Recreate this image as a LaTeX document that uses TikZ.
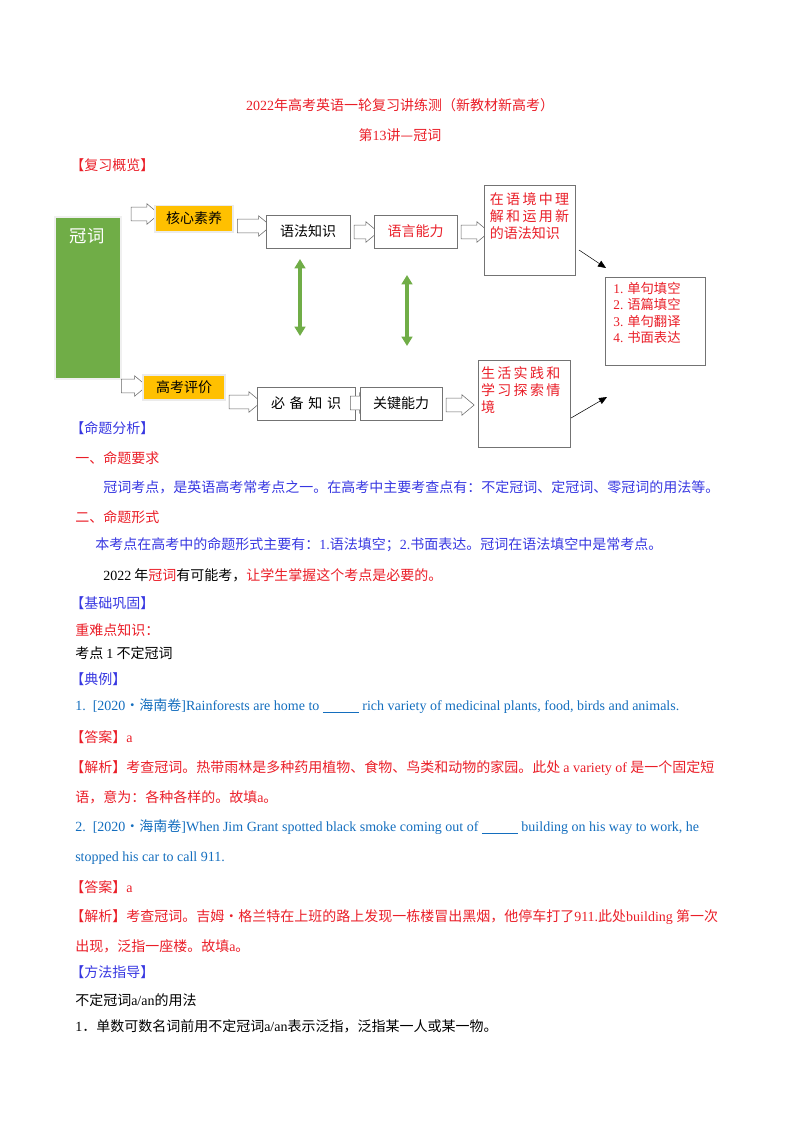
\documentclass[tikz,border=0pt]{standalone}
\usepackage{fontspec}
\setmainfont{Noto Sans CJK SC}
\newfontfamily\E{Liberation Serif}
\usetikzlibrary{shapes.arrows,arrows.meta}
\definecolor{rd}{RGB}{234,30,40}
\definecolor{bl}{RGB}{55,55,225}
\definecolor{ex}{RGB}{20,110,190}
\definecolor{gr}{RGB}{112,173,71}
\definecolor{og}{RGB}{255,192,0}
\newcommand{\en}[1]{{\E #1}}
\newcommand{\blank}{\underline{\hspace{27pt}}}
\begin{document}
\begin{tikzpicture}[x=0.75pt,y=-0.75pt,
  every node/.style={inner sep=0pt,font=\fontsize{10.5}{13}\selectfont},
  t/.style={anchor=west},
  box/.style={draw=black!55,fill=white,line width=0.5pt},
  obox/.style={fill=og,draw=black!8,line width=1pt},
  harr/.style={single arrow,draw=black!60,fill=white,line width=0.4pt,inner xsep=0pt,inner ysep=5pt,single arrow head extend=2.5pt,single arrow tip angle=80,shape border rotate=0},
  garr/.style={draw=gr,line width=3pt,{Triangle[length=7pt,width=8pt]}-{Triangle[length=7pt,width=8pt]}},
  larr/.style={draw=black,line width=0.4pt,-{Triangle[length=6pt,width=5pt]}}]
\useasboundingbox (0,0) rectangle (800,1132);
% titles
\node[text=rd] (ti1) at (400,105) {\en{2022}年高考英语一轮复习讲练测（新教材新高考）};
\node[text=rd] (ti2) at (400,135) {第\en{13}讲—冠词};
\node[t,text=rd] (h1) at (70,165) {【复习概览】};
% diagram
\node[fill=gr,draw=black!6,line width=1.5pt,minimum width=49.5pt,minimum height=122pt] (g) at (88,298) {};
\node[text=white,font=\fontsize{13}{15}\selectfont] (gt) at (87,236) {冠词};
\node[harr,minimum height=21pt] (a1) at (141,214) {};
\node[obox,minimum width=58.5pt,minimum height=20pt] (k1) at (194,218.5) {核心素养};
\node[harr,minimum height=25pt] (a2) at (250,226) {};
\node[box,minimum width=63pt,minimum height=24.75pt] (k2) at (308,231.5) {语法知识};
\node[harr,minimum height=18pt] (a3) at (362,232) {};
\node[box,minimum width=62.25pt,minimum height=24.75pt,text=rd] (k3) at (415.5,231.5) {语言能力};
\node[harr,minimum height=21pt] (a4) at (471,232) {};
\node[box,minimum width=68.25pt,minimum height=67.5pt] (k4) at (529.5,230) {};
\node[text=rd,align=left,font=\fontsize{10.5}{12.8}\selectfont] (k4t) at (529.5,216) {在\,语\,境\,中\,理\\解\,和\,运\,用\,新\\的语法知识};
\node[box,minimum width=75pt,minimum height=66pt] (f) at (655,321) {};
\node[text=rd,align=left,font=\fontsize{10}{12.2}\selectfont] (ft) at (647,313) {\en{1.} 单句填空\\\en{2.} 语篇填空\\\en{3.} 单句翻译\\\en{4.} 书面表达};
\node[harr,minimum height=19pt] (b1) at (130,386) {};
\node[obox,minimum width=61.5pt,minimum height=18.75pt] (m1) at (184,387.5) {高考评价};
\node[harr,minimum height=24pt] (b2) at (241,402) {};
\node[box,minimum width=73.5pt,minimum height=24.75pt] (m2) at (306,403.5) {必\,\,备\,\,知\,\,识};
\node[harr,minimum height=16pt] (b3) at (357,403) {};
\node[box,minimum width=61.5pt,minimum height=24.75pt] (m3) at (401,403.5) {关键能力};
\node[harr,minimum height=21pt] (b4) at (456,405) {};
\node[box,minimum width=69pt,minimum height=65.25pt] (m4) at (524,403.5) {};
\node[text=rd,align=left,font=\fontsize{10.5}{12.8}\selectfont] (m4t) at (523,390) {生\,活\,实\,践\,和\\学\,习\,探\,索\,情\\境\hphantom{习探索情境}};
\coordinate (p1) at (579,250); \coordinate (p2) at (606,268);
\draw[larr] (p1) -- (p2);
\coordinate (q1) at (571,418); \coordinate (q2) at (607,397);
\draw[larr] (q1) -- (q2);
\coordinate (d1) at (300,259); \coordinate (d2) at (300,336);
\draw[garr] (d1) -- (d2);
\coordinate (e1) at (407,275); \coordinate (e2) at (407,346);
\draw[garr] (e1) -- (e2);
% text
\node[t,text=bl] (s1) at (70,428) {【命题分析】};
\node[t,text=rd] (s2) at (75,458) {一、命题要求};
\node[t,text=bl] (s3) at (103,487) {冠词考点，是英语高考常考点之一。在高考中主要考查点有：不定冠词、定冠词、零冠词的用法等。};
\node[t,text=rd] (s4) at (75,517) {二、命题形式};
\node[t,text=bl] (s5) at (95,545) {本考点在高考中的命题形式主要有：\en{1.}语法填空；\en{2.}书面表达。冠词在语法填空中是常考点。};
\node[t] (s6) at (103,575) {\en{2022} 年\textcolor{rd}{冠词}有可能考，\textcolor{rd}{让学生掌握这个考点是必要的。}};
\node[t,text=bl] (s7) at (70,603) {【基础巩固】};
\node[t,text=rd] (s8) at (75,630) {重难点知识：};
\node[t] (s9) at (75,653) {考点 \en{1} 不定冠词};
\node[t,text=bl] (s10) at (70,679) {【典例】};
\node[t,text=ex] (s11) at (75,706) {\en{1.\ \ [2020}·海南卷\en{]Rainforests are home to \blank{} rich variety of medicinal plants, food, birds and animals.}};
\node[t,text=rd] (s12) at (70,737) {【答案】\en{a}};
\node[t,text=rd] (s13) at (70,768) {【解析】考查冠词。热带雨林是多种药用植物、食物、鸟类和动物的家园。此处 \en{a variety of} 是一个固定短};
\node[t,text=rd] (s14) at (75,797) {语，意为：各种各样的。故填\en{a}。};
\node[t,text=ex] (s15) at (75,827) {\en{2.\ \ [2020}·海南卷\en{]When Jim Grant spotted black smoke coming out of \blank{} building on his way to work, he}};
\node[t,text=ex] (s16) at (75,858) {\en{stopped his car to call 911.}};
\node[t,text=rd] (s17) at (70,887) {【答案】\en{a}};
\node[t,text=rd] (s18) at (70,917) {【解析】考查冠词。吉姆·格兰特在上班的路上发现一栋楼冒出黑烟，他停车打了\en{911.}此处\en{building} 第一次};
\node[t,text=rd] (s19) at (75,946) {出现，泛指一座楼。故填\en{a}。};
\node[t,text=bl] (s20) at (70,972) {【方法指导】};
\node[t] (s21) at (75,1000) {不定冠词\en{a/an}的用法};
\node[t] (s22) at (75,1026) {\en{1}．单数可数名词前用不定冠词\en{a/an}表示泛指，泛指某一人或某一物。};
\end{tikzpicture}
\end{document}
